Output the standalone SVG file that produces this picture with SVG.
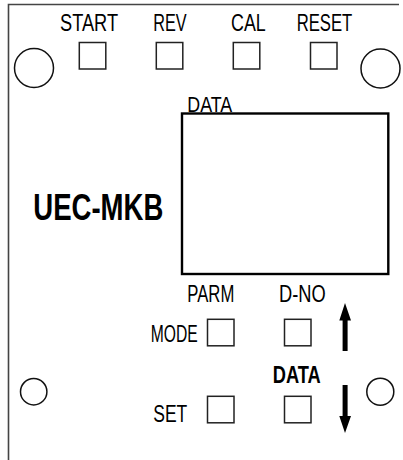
<svg xmlns="http://www.w3.org/2000/svg" width="403" height="460" viewBox="0 0 403 460">
<style>
.lbl{font-family:"Liberation Sans",Arial,sans-serif;font-size:24px;fill:#000;text-anchor:start}
.btn{fill:#fff;stroke:#222;stroke-width:1.5}
.hole{fill:#fff;stroke:#111;stroke-width:1.5}
.frame{fill:none;stroke:#444;stroke-width:1.6}
.arr{fill:#000;stroke:none}
</style>
<rect x="0" y="0" width="403" height="460" fill="#fff"/>
<g id="frame">
<path class="frame" d="M8.5,460 V4.5 H399"/>
</g>
<g id="holes">
<circle class="hole" cx="34" cy="68" r="19.5"/>
<circle class="hole" cx="380.5" cy="68.5" r="19.5"/>
<circle class="hole" cx="33.7" cy="391.7" r="13.2"/>
<circle class="hole" cx="380.3" cy="391.7" r="13.5"/>
</g>
<g id="btn-start">
<text class="lbl" x="60" y="31" textLength="58" lengthAdjust="spacingAndGlyphs">START</text>
<rect class="btn" x="79.3" y="42.5" width="26.5" height="26.5"/>
</g>
<g id="btn-rev">
<text class="lbl" x="153.3" y="31" textLength="33.4" lengthAdjust="spacingAndGlyphs">REV</text>
<rect class="btn" x="156.3" y="42.5" width="26.5" height="26.5"/>
</g>
<g id="btn-cal">
<text class="lbl" x="231" y="31" textLength="34.7" lengthAdjust="spacingAndGlyphs">CAL</text>
<rect class="btn" x="233.3" y="42.5" width="26.5" height="26.5"/>
</g>
<g id="btn-reset">
<text class="lbl" x="296.7" y="31" textLength="55.6" lengthAdjust="spacingAndGlyphs">RESET</text>
<rect class="btn" x="310.5" y="42.5" width="26.5" height="26.5"/>
</g>
<g id="display">
<text class="lbl" x="187.3" y="112.3" style="font-size:22px" textLength="45" lengthAdjust="spacingAndGlyphs">DATA</text>
<rect x="182" y="113.5" width="206.3" height="160.5" fill="#fff" stroke="#000" stroke-width="2.4"/>
</g>
<g id="title">
<text class="lbl" x="33.3" y="220" style="font-size:36px;font-weight:bold" textLength="130" lengthAdjust="spacingAndGlyphs">UEC-MKB</text>
</g>
<g id="btn-mode">
<text class="lbl" x="187.3" y="302" textLength="47" lengthAdjust="spacingAndGlyphs">PARM</text>
<text class="lbl" x="150.7" y="341.7" textLength="47" lengthAdjust="spacingAndGlyphs">MODE</text>
<rect class="btn" x="207.5" y="319.3" width="26.5" height="26.5"/>
</g>
<g id="btn-dno">
<text class="lbl" x="279" y="302" textLength="46.7" lengthAdjust="spacingAndGlyphs">D-NO</text>
<rect class="btn" x="284.5" y="319.3" width="26.5" height="26.5"/>
</g>
<g id="btn-set">
<text class="lbl" x="153.3" y="421.7" textLength="34" lengthAdjust="spacingAndGlyphs">SET</text>
<rect class="btn" x="207.5" y="396.3" width="26.5" height="26.5"/>
</g>
<g id="btn-data">
<text class="lbl" x="272.7" y="383.3" style="font-weight:bold" textLength="48" lengthAdjust="spacingAndGlyphs">DATA</text>
<rect class="btn" x="284.5" y="396.3" width="26.5" height="26.5"/>
</g>
<g id="arrows">
<path class="arr" d="M345,303 L351,320.5 H347.6 V351 H342.6 V320.5 H339.3 Z"/>
<path class="arr" d="M345,433 L351,416 H347.6 V385 H342.6 V416 H339.3 Z"/>
</g>
</svg>
